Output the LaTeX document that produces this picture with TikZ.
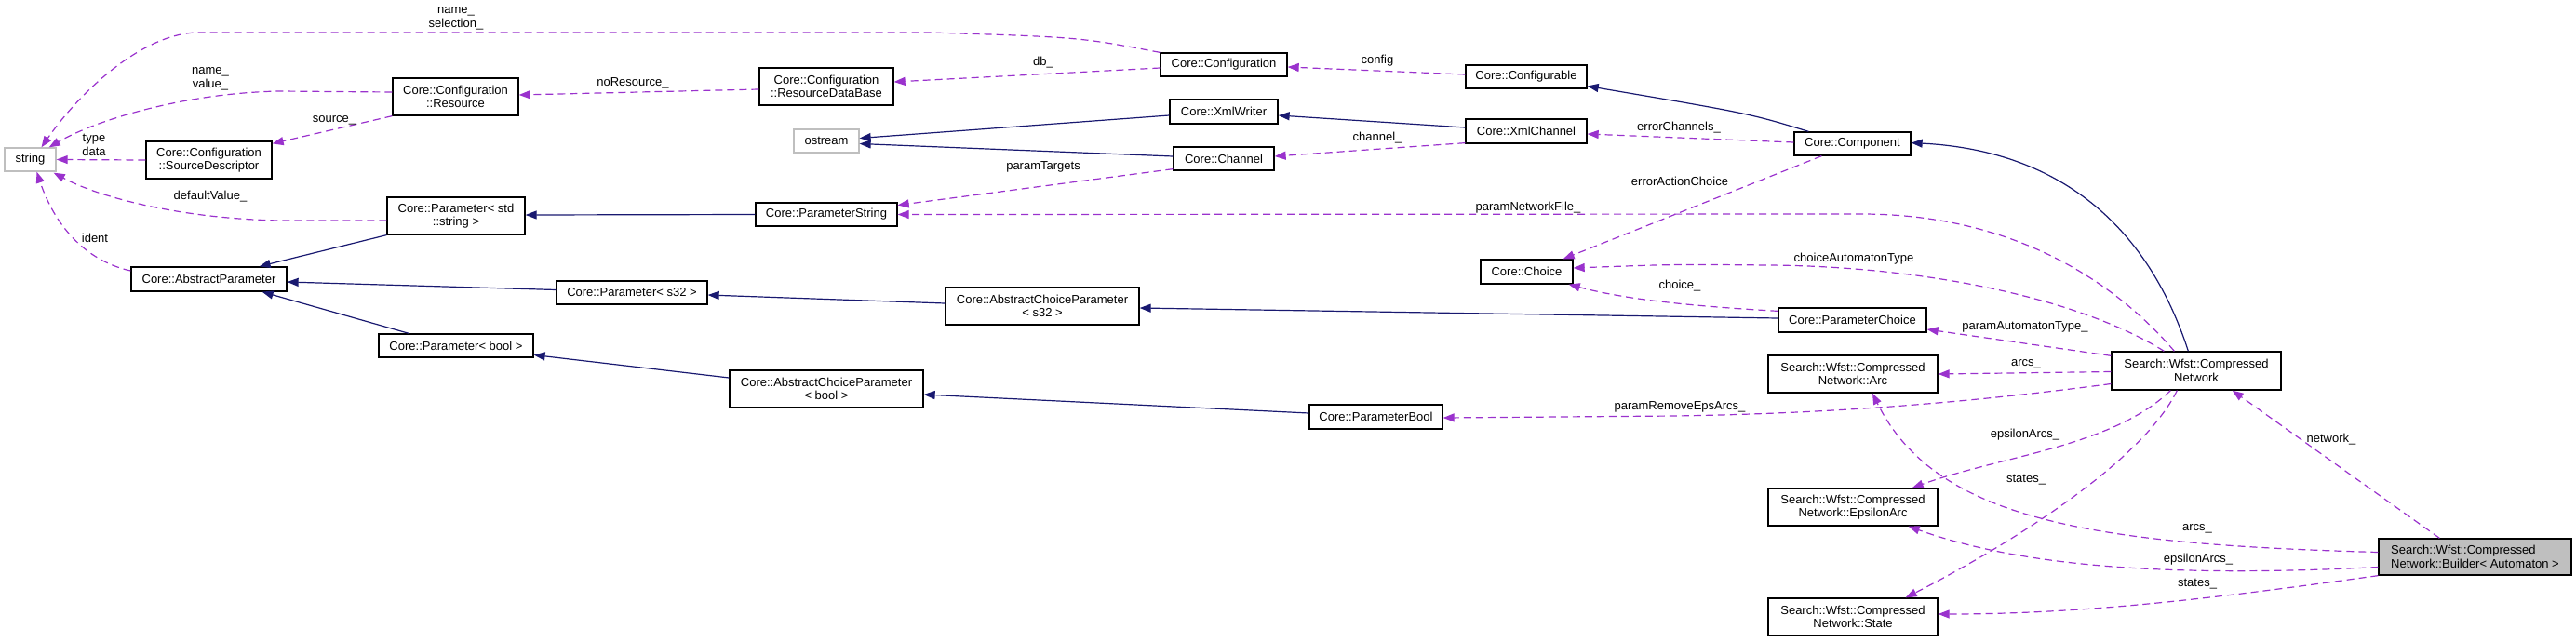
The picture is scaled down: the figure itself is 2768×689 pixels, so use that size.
\documentclass[tikz,border=0pt]{standalone}
\usepackage{fontspec}
\setmainfont{Liberation Sans}
\usetikzlibrary{arrows.meta,calc}
\definecolor{dpurple}{RGB}{154,50,205}
\definecolor{dblue}{RGB}{25,25,112}
\definecolor{dgray}{RGB}{191,191,191}
\newcommand{\dfont}{\fontsize{13}{14.5}\selectfont}
\begin{document}
\begin{tikzpicture}[x=1pt,y=-1pt,
 box/.style={draw=black,line width=1.3pt,fill=white,inner sep=0pt,align=center,font=\dfont},
 gbox/.style={box,draw=dgray},
 rootbox/.style={box,fill=dgray,align=left},
 lbl/.style={font=\dfont,inner sep=0pt,align=center,text height=9.5pt,text depth=2.5pt},
 lbltwo/.style={font=\dfont,inner sep=0pt,align=center},
 dep/.style={draw=dpurple,line width=1.2pt,dash pattern=on 8pt off 5pt,-{Triangle[length=12pt,width=9pt]}},
 inh/.style={draw=dblue,line width=1.2pt,-{Triangle[length=12pt,width=9pt]}}]
\useasboundingbox (0,0) rectangle (2768,689);

% nodes
\node[gbox,minimum width=55pt,minimum height=25pt] (str) at (32.5,171.5) {string};
\node[gbox,minimum width=70pt,minimum height=25pt] (ost) at (888,151.5) {ostream};
\node[box,minimum width=135pt,minimum height=40pt] (sd) at (224.5,172) {Core::Configuration\\::SourceDescriptor};
\node[box,minimum width=135pt,minimum height=40pt] (res) at (489.5,104) {Core::Configuration\\::Resource};
\node[box,minimum width=144pt,minimum height=40pt] (rdb) at (888,93) {Core::Configuration\\::ResourceDataBase};
\node[box,minimum width=136pt,minimum height=25pt] (cfg) at (1315,69.5) {Core::Configuration};
\node[box,minimum width=130pt,minimum height=25pt] (cfa) at (1640,82.5) {Core::Configurable};
\node[box,minimum width=116pt,minimum height=26pt] (xw) at (1315,120) {Core::XmlWriter};
\node[box,minimum width=130pt,minimum height=26pt] (xc) at (1640,141) {Core::XmlChannel};
\node[box,minimum width=108pt,minimum height=25pt] (ch) at (1315,170.5) {Core::Channel};
\node[box,minimum width=125pt,minimum height=25pt] (comp) at (1990.5,154.5) {Core::Component};
\node[box,minimum width=152pt,minimum height=25pt] (pstr) at (888,230.5) {Core::ParameterString};
\node[box,minimum width=148pt,minimum height=40pt] (pstd) at (490,232) {Core::Parameter< std\\::string >};
\node[box,minimum width=167pt,minimum height=26pt] (ap) at (224.5,300) {Core::AbstractParameter};
\node[box,minimum width=162pt,minimum height=25pt] (ps32) at (679,314.5) {Core::Parameter< s32 >};
\node[box,minimum width=166pt,minimum height=25pt] (pbl) at (490,371.5) {Core::Parameter< bool >};
\node[box,minimum width=208pt,minimum height=40pt] (acs) at (1120,329) {Core::AbstractChoiceParameter\\< s32 >};
\node[box,minimum width=208pt,minimum height=40pt] (acb) at (888,418) {Core::AbstractChoiceParameter\\< bool >};
\node[box,minimum width=99pt,minimum height=26pt] (cho) at (1640.5,292) {Core::Choice};
\node[box,minimum width=159pt,minimum height=26pt] (pch) at (1990.5,344) {Core::ParameterChoice};
\node[box,minimum width=143pt,minimum height=26pt] (pb) at (1478.5,448) {Core::ParameterBool};
\node[box,minimum width=182pt,minimum height=40pt] (arc) at (1991,402) {Search::Wfst::Compressed\\Network::Arc};
\node[box,minimum width=182pt,minimum height=41pt] (net) at (2360,398.5) {Search::Wfst::Compressed\\Network};
\node[box,minimum width=182pt,minimum height=40pt] (eps) at (1991,545) {Search::Wfst::Compressed\\Network::EpsilonArc};
\node[box,minimum width=182pt,minimum height=40pt] (sta) at (1991,663) {Search::Wfst::Compressed\\Network::State};
\node[rootbox,minimum width=207pt,minimum height=39pt] (bld) at (2659.5,598.5) {Search::Wfst::Compressed\\Network::Builder< Automaton >};

% edges
\draw[dep] (cfg.north west) .. controls (1160,40) .. (1000,35) -- (210,35) .. controls (150,38) and (85,100) .. ($(str.north)+(12,0)$);
\draw[dep] ($(res.west)+(0,-5)$) -- (300,98) .. controls (200,100) and (105,128) .. ($(str.north east)+(-8,0)$);
\draw[dep] (sd.west) -- (str.east);
\draw[dep] (res.south west) -- ($(sd.north east)+(0,3)$);
\draw[dep] ($(rdb.west)+(0,3)$) -- ($(res.east)+(0,-2)$);
\draw[dep] ($(cfg.west)+(0,3.5)$) -- ($(rdb.east)+(0,-5)$);
\draw[dep] ($(cfa.west)+(0,-2.5)$) -- ($(cfg.east)+(0,2.5)$);
\draw[inh] ($(comp.north west)+(16,0)$) .. controls (1880,122) .. ($(cfa.east)+(0,10)$);
\draw[inh] ($(xc.west)+(0,-4)$) -- ($(xw.east)+(0,4)$);
\draw[inh] ($(xw.west)+(0,4)$) -- ($(ost.east)+(0,-3)$);
\draw[inh] ($(ch.west)+(0,-2.5)$) -- ($(ost.east)+(0,3)$);
\draw[dep] ($(comp.west)+(0,-1.5)$) -- ($(xc.east)+(0,3)$);
\draw[dep] ($(xc.south west)+(0,-1)$) -- ($(ch.east)+(0,-2.5)$);
\draw[dep] ($(ch.south west)+(0,-2)$) -- ($(pstr.east)+(0,-10)$);
\draw[inh] (pstr.west) -- ($(pstd.east)+(0,-1)$);
\draw[dep] ($(pstd.west)+(0,5)$) -- (300,237) .. controls (200,235) and (110,214) .. ($(str.south east)+(-3,1)$);
\draw[inh] (pstd.south west) -- ($(ap.north east)+(-30,0)$);
\draw[dep] ($(ap.west)+(0,-9)$) .. controls (90,280) and (58,240) .. ($(str.south)+(7,0)$);
\draw[inh] ($(ps32.west)+(0,-3)$) -- ($(ap.east)+(0,3)$);
\draw[inh] ($(pbl.north west)+(33,0)$) -- ($(ap.south east)+(-27,0)$);
\draw[inh] ($(acs.west)+(0,-3)$) -- ($(ps32.east)+(0,2.5)$);
\draw[inh] ($(acb.west)+(0,-12)$) -- ($(pbl.east)+(0,10)$);
\draw[inh] ($(pch.west)+(0,-2)$) -- ($(acs.east)+(0,2)$);
\draw[inh] ($(pb.west)+(0,-4)$) -- ($(acb.east)+(0,6)$);
\draw[dep] ($(comp.south west)+(30,0)$) -- ($(cho.north east)+(-11,0)$);
\draw[dep] ($(net.north west)+(68,0)$) .. controls (2270,300) and (2160,230) .. (2000,230) -- (pstr.east);
\draw[dep] ($(net.north west)+(57,0)$) .. controls (2230,318) and (2060,286) .. (1900,285) .. controls (1800,284) .. ($(cho.east)+(0,-4)$);
\draw[dep] ($(pch.north west)+(0,4)$) .. controls (1800,328) and (1740,320) .. ($(cho.south east)+(-5,0)$);
\draw[inh] ($(net.north west)+(83,0)$) .. controls (2310,250) and (2220,162) .. ($(comp.east)+(0,-1)$);
\draw[dep] ($(net.north west)+(0,5)$) -- ($(pch.east)+(0,10)$);
\draw[dep] ($(net.west)+(0,1)$) -- (arc.east);
\draw[dep] ($(net.west)+(0,14)$) .. controls (2150,428) and (2000,444) .. (1800,447) -- ($(pb.east)+(0,1)$);
\draw[dep] ($(net.south west)+(64,0)$) .. controls (2270,480) and (2150,490) .. ($(eps.north east)+(-28,0)$);
\draw[dep] ($(net.south west)+(71,0)$) .. controls (2300,500) and (2150,590) .. ($(sta.north east)+(-35,0)$);
\draw[dep] ($(bld.north west)+(66,0)$) -- ($(net.south east)+(-53,0)$);
\draw[dep] ($(bld.west)+(0,-5)$) .. controls (2250,585) and (2080,560) .. ($(arc.south)+(21,0)$);
\draw[dep] ($(bld.west)+(0,11)$) .. controls (2350,620) and (2180,612) .. ($(eps.south east)+(-32,0)$);
\draw[dep] (bld.south west) .. controls (2400,640) and (2250,660) .. ($(sta.east)+(0,-3)$);

% labels
\node[lbltwo] (l1) at (490,20) {name\_\\selection\_};
\node[lbltwo] (l2) at (226,85) {name\_\\value\_};
\node[lbltwo] (l3) at (101,156) {type\\data};
\node[lbl] (l4) at (359,128) {source\_};
\node[lbl] (l5) at (680,89) {noResource\_};
\node[lbl] (l6) at (1121,67) {db\_};
\node[lbl] (l7) at (1480,65) {config};
\node[lbl] (l8) at (1804,137) {errorChannels\_};
\node[lbl] (l9) at (1480,148) {channel\_};
\node[lbl] (l10) at (1121,179) {paramTargets};
\node[lbl] (l11) at (226,211) {defaultValue\_};
\node[lbl] (l12) at (102,257) {ident};
\node[lbl] (l13) at (1805,196) {errorActionChoice};
\node[lbl] (l14) at (1642,223) {paramNetworkFile\_};
\node[lbl] (l15) at (1992,278) {choiceAutomatonType};
\node[lbl] (l16) at (1805,307) {choice\_};
\node[lbl] (l17) at (2176,351) {paramAutomatonType\_};
\node[lbl] (l18) at (2177,390) {arcs\_};
\node[lbl] (l19) at (1805,437) {paramRemoveEpsArcs\_};
\node[lbl] (l20) at (2176,467) {epsilonArcs\_};
\node[lbl] (l21) at (2177,515) {states\_};
\node[lbl] (l22) at (2505,472) {network\_};
\node[lbl] (l23) at (2361,567) {arcs\_};
\node[lbl] (l24) at (2362,601) {epsilonArcs\_};
\node[lbl] (l25) at (2361,627) {states\_};
\end{tikzpicture}
\end{document}
